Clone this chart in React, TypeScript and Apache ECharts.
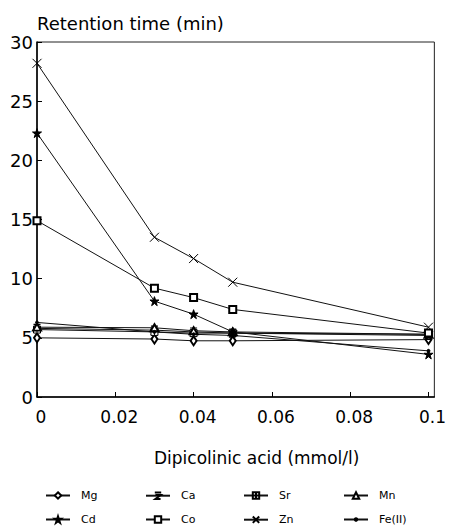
import React, { useEffect, useRef } from "react";
import * as echarts from "echarts";

const xValues = [0, 0.03, 0.04, 0.05, 0.1];
const xTickLabels = ["0", "0.02", "0.04", "0.06", "0.08", "0.1"];

const mg = [5.0, 4.9, 4.75, 4.75, 4.85];
const ca = [5.8, 5.65, 5.5, 5.4, 5.2];
const sr = [5.7, 5.5, 5.4, 5.4, 5.3];
const mn = [5.9, 5.85, 5.6, 5.5, 5.3];
const cd = [22.3, 8.1, 7.0, 5.5, 3.6];
const co = [14.9, 9.2, 8.4, 7.4, 5.4];
const zn = [28.2, 13.5, 11.7, 9.7, 5.9];
const fe = [6.3, 5.5, 5.3, 5.2, 3.9];

const seriesNames = ["Mg", "Ca", "Sr", "Mn", "Cd", "Co", "Zn", "Fe(II)"];
const seriesValues = [mg, ca, sr, mn, cd, co, zn, fe];

const FONT = "DejaVu Sans";

const symbols: Record<string, { symbol: string; size: number | number[]; fill: string }> = {
  Mg: { symbol: "emptyDiamond", size: [6, 9], fill: "#000" },
  Ca: { symbol: "path://M0,0 L10,0 M1,4 L9,4 L1,10 L9,10", size: [7, 8], fill: "none" },
  Sr: { symbol: "path://M0,0 L10,0 L10,10 L0,10 Z M5,0 L5,10 M0,5 L10,5", size: [7, 7], fill: "#fff" },
  Mn: { symbol: "emptyTriangle", size: [8, 7], fill: "#000" },
  Cd: {
    symbol:
      "path://M5,0 L6.2,3.6 L10,3.6 L6.9,5.9 L8.1,9.6 L5,7.3 L1.9,9.6 L3.1,5.9 L0,3.6 L3.8,3.6 Z",
    size: [9, 9],
    fill: "#000",
  },
  Co: { symbol: "emptyRect", size: [7, 7], fill: "#000" },
  Zn: { symbol: "path://M0,0 L10,10 M10,0 L0,10", size: [9, 9], fill: "none" },
  "Fe(II)": { symbol: "circle", size: 3, fill: "#000" },
};

const legendPos = [
  [45, 490],
  [145, 490],
  [243, 490],
  [343, 490],
  [45, 514],
  [145, 514],
  [243, 514],
  [343, 514],
];

export default function App() {
  const ref = useRef<HTMLDivElement>(null);
  useEffect(() => {
    if (!ref.current) return;
    const chart = echarts.init(ref.current, null, { renderer: "svg" });
    const series = seriesNames.map((name, i) => {
      const s = symbols[name];
      return {
        name,
        type: "line",
        data: xValues.map((x, j) => [x, seriesValues[i][j]]),
        symbol: s.symbol,
        symbolSize: s.size,
        showAllSymbol: true,
        lineStyle: { color: "#111", width: 1 },
        itemStyle: { color: s.fill, borderColor: "#000", borderWidth: 1 },
        emphasis: { disabled: true },
      };
    });
    chart.setOption({
      animation: false,
      backgroundColor: "#fff",
      title: {
        text: "Retention time (min)",
        left: 32,
        top: 9,
        textStyle: { fontFamily: FONT, fontSize: 18, fontWeight: "normal", color: "#000" },
      },
      grid: {
        left: 37,
        right: 14,
        top: 42,
        bottom: 130,
        show: true,
        borderColor: "#222",
        borderWidth: 1,
        backgroundColor: "transparent",
      },
      legend: seriesNames.map((name, i) => ({
        data: [name],
        left: legendPos[i][0],
        top: legendPos[i][1],
        padding: 0,
        itemWidth: 24,
        itemHeight: name === "Fe(II)" ? 3 : 8,
        selectedMode: false,
        textStyle: { fontFamily: FONT, fontSize: 11, color: "#000", padding: [0, 0, 0, 6] },
      })),
      xAxis: {
        type: "value",
        min: 0,
        max: 0.1015,
        interval: 0.02,
        name: "Dipicolinic acid (mmol/l)",
        nameLocation: "middle",
        nameGap: 52,
        nameTextStyle: { fontFamily: FONT, fontSize: 17, color: "#000", padding: [0, 0, 0, 42] },
        axisLine: { show: true, lineStyle: { color: "#000", width: 1.5 } },
        axisTick: { show: true, inside: true, length: 5, lineStyle: { color: "#000" } },
        axisLabel: {
          fontFamily: FONT,
          fontSize: 17,
          color: "#000",
          margin: 11,
          padding: [0, 0, 0, 8],
          formatter: (v: number) => xTickLabels[Math.round(v / 0.02)] ?? "",
        },
        splitLine: { show: false },
      },
      yAxis: {
        type: "value",
        min: 0,
        max: 30,
        interval: 5,
        axisLine: { show: true, lineStyle: { color: "#000", width: 1.5 } },
        axisTick: { show: true, inside: true, length: 5, lineStyle: { color: "#000" } },
        axisLabel: { fontFamily: FONT, fontSize: 18, color: "#000", margin: 4 },
        splitLine: { show: false },
      },
      series,
    });
    return () => chart.dispose();
  }, []);
  return <div ref={ref} style={{ width: 449, height: 527, position: "absolute", left: 0, top: 0 }} />;
}
